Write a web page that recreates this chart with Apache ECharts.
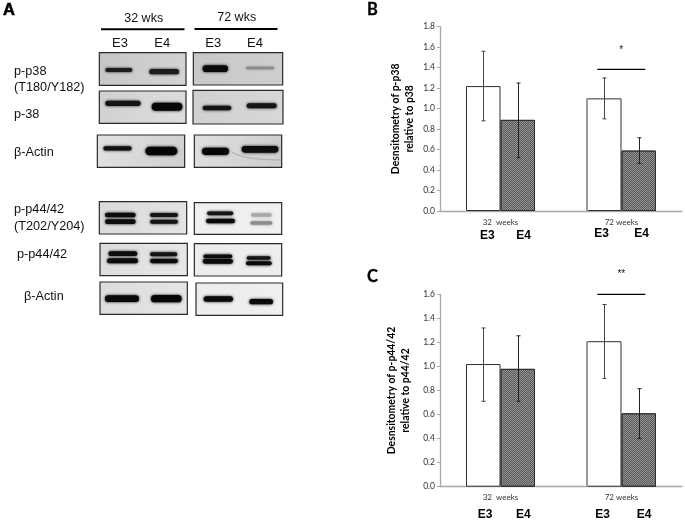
<!DOCTYPE html>
<html><head><meta charset="utf-8">
<style>html,body{margin:0;padding:0;background:#fff}#c{width:685px;height:521px;filter:blur(0.45px)}</style>
<script src="https://cdn.jsdelivr.net/npm/echarts@6/dist/echarts.min.js"></script>
</head><body><div id="c"></div>
<script>
// ---- chart data ----
const groups = ['32  weeks', '72 weeks'];
const bE3 = [1.22, 1.10];
const bE4 = [0.89, 0.59];
const bE3Low = [0.88, 0.90];
const bE3High = [1.56, 1.30];
const bE4Low = [0.52, 0.465];
const bE4High = [1.25, 0.715];
const cE3 = [1.02, 1.21];
const cE4 = [0.98, 0.61];
const cE3Low = [0.71, 0.90];
const cE3High = [1.32, 1.515];
const cE4Low = [0.71, 0.40];
const cE4High = [1.255, 0.815];
const bSigLevel = 1.384;
const cSigLevel = 1.6;
const bStar = '*';
const cStar = '**';
const bName = 'Desnsitometry of p-p38\nrelative to p38';
const cName = 'Desnsitometry of p-p44/42\nrelative to p44/42';

// ---- blot artwork (panel A), in units of 1/3 px ----
const S = 1/3;
const BLOT = [
 {box:[298,158,558,256],bg:['#c6c6c6','#d4d4d4'],bands:[[313,400,210,12,'#1c1c1c'],[445,540,215,16,'#1c1c1c']]},
 {box:[580,158,848,255],bg:['#c8c8c8','#cfcfcf'],bands:[[605,687,206,20,'#0a0a0a'],[735,825,204,8,'#8a8a8a']]},
 {box:[298,273,558,370],bg:['#d0d0d0','#dedede'],bands:[[313,425,310,16,'#141414'],[452,550,320,24,'#060606']]},
 {box:[579,271,849,372],bg:['#cfcfcf','#d8d8d8'],bands:[[605,697,324,14,'#141414'],[737,833,317,15,'#141414']]},
 {box:[292,405,554,502],bg:['#e2e2e2','#cfcfcf'],bands:[[307,398,445,13,'#101010'],[433,535,453,26,'#060606']]},
 {box:[583,405,845,502],bg:['#e0e0e0','#cccccc'],bands:[[603,690,454,22,'#060606'],[722,838,448,20,'#0c0c0c']]},
 {box:[298,605,560,702],bg:['#dadada','#e4e4e4'],bands:[[312,410,645,14,'#0c0c0c'],[312,410,665,14,'#0c0c0c'],[447,537,645,12,'#141414'],[447,537,665,12,'#141414']]},
 {box:[583,608,845,703],bg:['#f0f0f0','#f0f0f0'],bands:[[618,703,640,11,'#141414'],[615,708,663,14,'#0a0a0a'],[750,818,645,10,'#a8a8a8'],[748,820,669,11,'#8c8c8c']]},
 {box:[300,730,562,827],bg:['#dcdcdc','#e8e8e8'],bands:[[322,415,761,14,'#0c0c0c'],[318,417,782,15,'#0a0a0a'],[447,535,763,12,'#141414'],[447,537,783,13,'#0c0c0c']]},
 {box:[583,731,845,828],bg:['#ececec','#eeeeee'],bands:[[607,700,769,11,'#0c0c0c'],[605,702,784,14,'#0a0a0a'],[737,815,774,10,'#141414'],[735,818,790,12,'#0c0c0c']]},
 {box:[300,846,562,943],bg:['#dcdcdc','#e6e6e6'],bands:[[312,420,896,20,'#0a0a0a'],[450,548,896,22,'#060606']]},
 {box:[588,849,848,946],bg:['#ececec','#f0f0f0'],bands:[[608,702,897,16,'#0a0a0a'],[745,822,905,16,'#0a0a0a']]}
];
const ARIAL = '"Liberation Sans",Arial,sans-serif';
const CAL = 'Lato,"Open Sans",sans-serif';
const gfx = [];
function txt(x,y,t,size,opt){
  gfx.push({type:'text',x:x,y:y,silent:true,z:20,style:Object.assign({text:t,fontSize:size,fontFamily:ARIAL,fill:'#111',align:'center',verticalAlign:'middle'},opt||{})});
}
BLOT.forEach(p=>{
  const [x0,y0,x1,y1]=p.box.map(v=>v*S);
  gfx.push({type:'rect',silent:true,z:5,shape:{x:x0,y:y0,width:x1-x0,height:y1-y0},
    style:{fill:{type:'linear',x:0,y:0,x2:1,y2:1,colorStops:[{offset:0,color:p.bg[0]},{offset:1,color:p.bg[1]}]},stroke:'#2a2a2a',lineWidth:1.2}});
  p.bands.forEach(b=>{
    const h=b[3]*S;
    gfx.push({type:'rect',silent:true,z:6,shape:{x:b[0]*S+1,y:b[2]*S-h/2,width:(b[1]-b[0])*S-2,height:h,r:h/2},
      style:{fill:b[4],shadowBlur:3,shadowColor:b[4]}});
  });
});
gfx.push({type:'bezierCurve',silent:true,z:6,shape:{x1:232,y1:152,cpx1:240,cpy1:158,x2:281,y2:160,cpx2:262,cpy2:160},style:{stroke:'#aaaaaa',fill:'none',lineWidth:1}});
gfx.push({type:'line',silent:true,z:6,shape:{x1:101,y1:29.2,x2:184.5,y2:29.2},style:{stroke:'#000',lineWidth:2}});
gfx.push({type:'line',silent:true,z:6,shape:{x1:194.5,y1:29,x2:277.5,y2:29},style:{stroke:'#000',lineWidth:2}});
txt(143.7,18.5,'32 wks',12.5); txt(236.7,18,'72 wks',12.5);
[[120,'E3'],[162.3,'E4'],[213.3,'E3'],[255,'E4']].forEach(a=>txt(a[0],43,a[1],13));
[[14,71.5,'p-p38'],[14,87,'(T180/Y182)'],[14,114,'p-38'],[14,152,'β-Actin'],[14,209.5,'p-p44/42'],[14,226,'(T202/Y204)'],[17,254.5,'p-p44/42'],[24,296,'β-Actin']]
  .forEach(a=>txt(a[0],a[1],a[2],12.7,{align:'left'}));
txt(3,10.5,'A',16.5,{align:'left',fontWeight:'bold',fill:'#000',stroke:'#000',lineWidth:0.6});
txt(367,9.5,'B',16.5,{align:'left',fontWeight:'bold',fontFamily:CAL,fill:'#000',stroke:'#000',lineWidth:0.3});
txt(367,276.5,'C',16.5,{align:'left',fontWeight:'bold',fontFamily:CAL,fill:'#000',stroke:'#000',lineWidth:0.3});
[[487.3,236,'E3'],[523.7,236,'E4'],[601.7,234,'E3'],[641.7,234,'E4'],[485,514.3,'E3'],[523.3,514.3,'E4'],[602.7,514.3,'E3'],[644,514.3,'E4']]
  .forEach(a=>txt(a[0],a[1],a[2],12,{fontWeight:'bold',fill:'#000'}));

// ---- layout ----
const BAR=34.5;
const AX='#a8a8a8';
const grids=[{left:440,right:3,top:26.7,height:184.3},{left:440,right:3,top:294.3,height:192.4}];
function xAx(i){return {type:'category',gridIndex:i,data:groups,
  axisLine:{lineStyle:{color:AX,width:1.3}},axisTick:{length:3,lineStyle:{color:AX}},
  axisLabel:{fontSize:8,color:'#333',fontFamily:CAL,margin:7}};}
function yAx(i,max,name,gap){return {type:'value',gridIndex:i,min:0,max:max,interval:0.2,
  name:name,nameLocation:'middle',nameGap:gap,nameRotate:90,
  nameTextStyle:{fontSize:10.4,fontWeight:'bold',color:'#000',fontFamily:CAL,lineHeight:14.5},
  axisLine:{show:true,lineStyle:{color:AX,width:1.3}},axisTick:{show:true,length:3,lineStyle:{color:AX}},
  splitLine:{show:false},
  axisLabel:{fontSize:8.5,color:'#333',fontFamily:CAL,margin:5,formatter:v=>v.toFixed(1)}};}
function bar(i,vals,fill,decal){
  return {type:'bar',xAxisIndex:i,yAxisIndex:i,data:vals,barWidth:BAR,barGap:'0%',z:2,silent:true,
    itemStyle:Object.assign({color:fill,borderColor:'#2e2e2e',borderWidth:1},decal?{decal:decal}:{})};
}
function err(i,low,high,side,col){
  return {type:'custom',xAxisIndex:i,yAxisIndex:i,z:4,silent:true,clip:false,
    data:low.map((l,k)=>[k,l,high[k]]),
    renderItem:(p,api)=>{
      const a=api.coord([api.value(0),api.value(1)]),b=api.coord([api.value(0),api.value(2)]);
      const x=Math.round(a[0]+side*BAR/2)+0.5, s={stroke:col,lineWidth:1};
      return {type:'group',children:[
        {type:'line',shape:{x1:x,y1:a[1],x2:x,y2:b[1]},style:s},
        {type:'line',shape:{x1:x-2,y1:a[1],x2:x+2,y2:a[1]},style:s},
        {type:'line',shape:{x1:x-2,y1:b[1],x2:x+2,y2:b[1]},style:s}]};
    }};
}
// the 72-week E3 bar has a wider grey left edge in the source figure
function edge(i,val){
  return {type:'custom',xAxisIndex:i,yAxisIndex:i,z:3,silent:true,clip:false,
    data:[[1,val]],
    renderItem:(p,api)=>{
      const t=api.coord([api.value(0),api.value(1)]),o=api.coord([api.value(0),0]);
      const x=t[0]-BAR;
      return {type:'line',shape:{x1:x,y1:t[1],x2:x,y2:o[1]},style:{stroke:'#9a9a9a',lineWidth:2}};
    }};
}
function sig(i,level,star,starDy){
  return {type:'custom',xAxisIndex:i,yAxisIndex:i,z:5,silent:true,clip:false,
    data:[[1,level]],
    renderItem:(p,api)=>{
      const c=api.coord([api.value(0),api.value(1)]), x=c[0]-0.2;
      return {type:'group',children:[
        {type:'line',shape:{x1:x-24,y1:c[1],x2:x+24,y2:c[1]},style:{stroke:'#000',lineWidth:1.2}},
        {type:'text',style:{x:x,y:c[1]-starDy,text:star,align:'center',verticalAlign:'middle',fontSize:10,fontFamily:ARIAL,fill:'#111'}}]};
    }};
}
const pattern={symbol:'rect',symbolSize:1,dashArrayX:[[1,1],[0,1,1,0]],dashArrayY:[1,0],color:'#5a5a5a',rotation:0};
const option={
  animation:false,backgroundColor:'#fff',
  graphic:gfx,
  grid:grids,
  xAxis:[xAx(0),xAx(1)],
  yAxis:[yAx(0,1.8,bName,23),yAx(1,1.6,cName,27)],
  series:[
    bar(0,bE3,'#fff'),bar(0,bE4,'#929292',pattern),edge(0,bE3[1]),
    err(0,bE3Low,bE3High,-1,'#444'),err(0,bE4Low,bE4High,1,'#222'),sig(0,bSigLevel,bStar,19),
    bar(1,cE3,'#fff'),bar(1,cE4,'#929292',pattern),edge(1,cE3[1]),
    err(1,cE3Low,cE3High,-1,'#444'),err(1,cE4Low,cE4High,1,'#222'),sig(1,cSigLevel,cStar,20)
  ]
};
echarts.init(document.getElementById('c')).setOption(option);
</script></body></html>
